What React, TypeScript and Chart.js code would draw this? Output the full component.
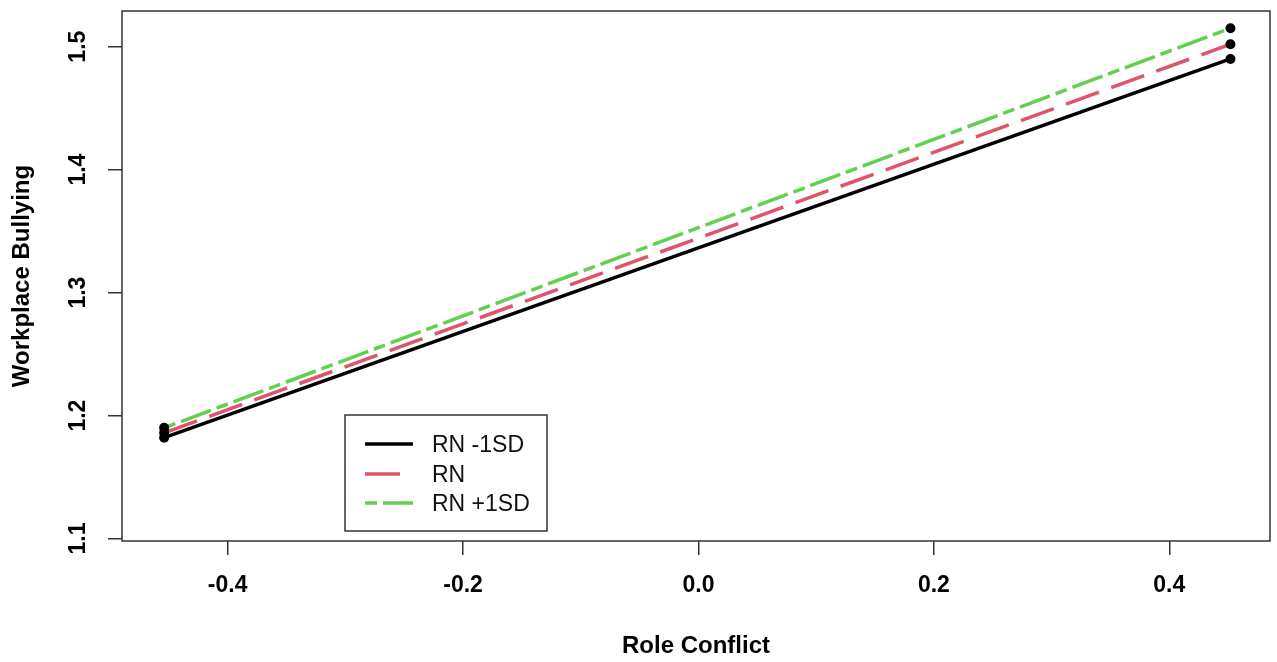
import React, { useEffect, useRef } from "react";
import { Chart, registerables } from "chart.js";

Chart.register(...registerables);

const xValues = [-0.454, 0.452];
const seriesNames = ["RN -1SD", "RN", "RN +1SD"];
const lowValues = [1.182, 1.490];
const meanValues = [1.186, 1.502];
const highValues = [1.190, 1.515];
const seriesColors = ["#000000", "#DF536B", "#61D04F"];
const seriesDashes: number[][] = [[], [35, 13], [12, 6, 32, 6]];
const xTicks = [-0.4, -0.2, 0.0, 0.2, 0.4];
const yTicks = [1.1, 1.2, 1.3, 1.4, 1.5];
const xTitle = "Role Conflict";
const yTitle = "Workplace Bullying";

const FONT = "Arial, 'Liberation Sans', sans-serif";
const AXIS_COLOR = "#333333";

const boxPlugin = {
  id: "rbox",
  afterDatasetsDraw(chart: any) {
    const { ctx, chartArea } = chart;
    ctx.save();
    ctx.strokeStyle = AXIS_COLOR;
    ctx.lineWidth = 1.5;
    ctx.strokeRect(
      chartArea.left,
      chartArea.top,
      chartArea.right - chartArea.left,
      chartArea.bottom - chartArea.top
    );
    // legend box
    const bx = 345, by = 415, bw = 202, bh = 116;
    ctx.fillStyle = "#ffffff";
    ctx.fillRect(bx, by, bw, bh);
    ctx.strokeRect(bx, by, bw, bh);
    const rows = [444, 474, 503];
    chart.data.datasets.forEach((ds: any, i: number) => {
      const y = rows[i];
      ctx.beginPath();
      ctx.strokeStyle = ds.borderColor;
      ctx.lineWidth = ds.borderWidth;
      ctx.setLineDash(ds.borderDash || []);
      ctx.moveTo(365, y);
      ctx.lineTo(413, y);
      ctx.stroke();
      ctx.setLineDash([]);
      ctx.fillStyle = "#111111";
      ctx.font = `23px ${FONT}`;
      ctx.textBaseline = "middle";
      ctx.textAlign = "left";
      ctx.fillText(ds.label, 432, y + 2);
    });
    ctx.restore();
  },
};

export default function App() {
  const ref = useRef<HTMLCanvasElement | null>(null);
  useEffect(() => {
    document.body.style.margin = "0";
    const seriesValues = [lowValues, meanValues, highValues];
    const chart = new Chart(ref.current as HTMLCanvasElement, {
      type: "line",
      data: {
        datasets: seriesValues.map((vals, i) => ({
          label: seriesNames[i],
          data: vals.map((v, j) => ({ x: xValues[j], y: v })),
          borderColor: seriesColors[i],
          backgroundColor: seriesColors[i],
          borderWidth: 3.5,
          borderDash: seriesDashes[i],
          pointRadius: 5,
          pointBackgroundColor: "#000000",
          pointBorderColor: "#000000",
          pointBorderWidth: 0,
          order: 3 - i,
          clip: false as any,
        })),
      },
      options: {
        animation: false,
        responsive: false,
        devicePixelRatio: 1,
        layout: { padding: { left: 0, top: 11, right: 7, bottom: 0 } },
        plugins: {
          legend: { display: false },
          tooltip: { enabled: false },
        },
        scales: {
          x: {
            type: "linear",
            min: -0.4898,
            max: 0.4856,
            afterFit(scale: any) {
              scale.height = 121;
              scale.paddingLeft = 0;
              scale.paddingRight = 0;
            },
            afterBuildTicks(scale: any) {
              scale.ticks = xTicks.map((v) => ({ value: v }));
            },
            border: { display: false },
            grid: {
              drawOnChartArea: false,
              drawTicks: true,
              tickLength: 14,
              color: AXIS_COLOR,
              lineWidth: 1.5,
            },
            ticks: {
              padding: 17,
              color: "#000000",
              font: { family: FONT, size: 23, weight: "bold" },
              maxRotation: 0,
              minRotation: 0,
              callback: (v: any) => Number(v).toFixed(1),
            },
            title: {
              display: true,
              text: xTitle,
              color: "#000000",
              font: { family: FONT, size: 24, weight: "bold", lineHeight: 1 },
              padding: { top: 0, bottom: 4 },
            },
          },
          y: {
            type: "linear",
            min: 1.098,
            max: 1.529,
            afterFit(scale: any) {
              scale.width = 122;
              scale.paddingTop = 0;
              scale.paddingBottom = 0;
            },
            afterBuildTicks(scale: any) {
              scale.ticks = yTicks.map((v) => ({ value: v }));
            },
            border: { display: false },
            grid: {
              drawOnChartArea: false,
              drawTicks: true,
              tickLength: 14,
              color: AXIS_COLOR,
              lineWidth: 1.5,
            },
            ticks: {
              padding: 13,
              color: "#000000",
              crossAlign: "center",
              minRotation: 90,
              maxRotation: 90,
              font: { family: FONT, size: 23, weight: "bold" },
              callback: (v: any) => Number(v).toFixed(1),
            },
            title: {
              display: true,
              text: yTitle,
              color: "#000000",
              font: { family: FONT, size: 24, weight: "bold", lineHeight: 1 },
              padding: { top: 10, bottom: 0 },
            },
          },
        },
      },
      plugins: [boxPlugin],
    } as any);
    return () => chart.destroy();
  }, []);
  return (
    <div style={{ position: "absolute", left: 0, top: 0, width: 1277, height: 662, background: "#fff" }}>
      <canvas ref={ref} width={1277} height={662} style={{ display: "block" }} />
    </div>
  );
}
